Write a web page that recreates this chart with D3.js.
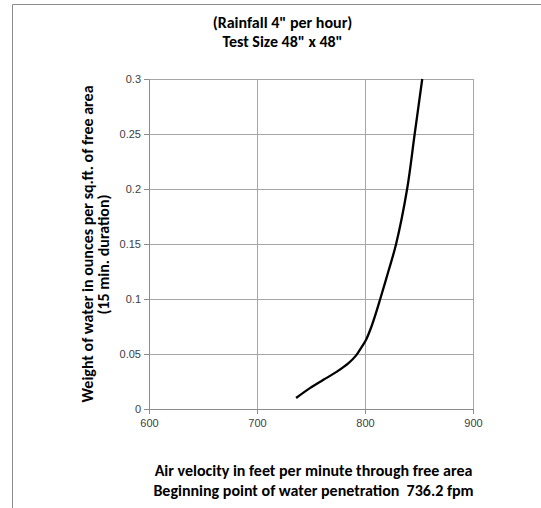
<!DOCTYPE html>
<html>
<head>
<meta charset="utf-8">
<script src="https://cdn.jsdelivr.net/npm/d3@7"></script>
<style>
  body { margin: 0; background: #fff; }
  svg { display: block; font-family: Carlito, Lato, "Liberation Sans", sans-serif; }
  .tick text { fill: #404040; font-size: 11px; }
  .title { font-weight: bold; font-size: 16px; fill: #000; }
</style>
</head>
<body>
<svg id="chart" width="541" height="508"></svg>
<script>
// Air velocity (fpm) vs water weight (oz / sq.ft.)
const velocity = [736.2, 749, 761.5, 774, 784.5, 792, 797, 801, 806, 810.4, 814.1, 821.6, 828.8, 839, 846, 853];
const weight = [0.01, 0.019, 0.0265, 0.034, 0.0415, 0.049, 0.0565, 0.063, 0.075, 0.088, 0.1, 0.125, 0.15, 0.2, 0.25, 0.3];

const xTicks = [600, 700, 800, 900];
const yTicks = [0, 0.05, 0.1, 0.15, 0.2, 0.25, 0.3];

const titleLines = ["(Rainfall 4\" per hour)", "Test Size 48\" x 48\""];
const xTitleLines = ["Air velocity in feet per minute through free area",
  "Beginning point of water penetration  736.2 fpm"];
const yTitleLines = ["Weight of water in ounces per sq.ft. of free area",
  "(15 min. duration)"];

const svg = d3.select("svg#chart");

const plot = { left: 149, top: 79, width: 324, height: 330 };

const x = d3.scaleLinear().domain([600, 900]).range([0, plot.width]);
const y = d3.scaleLinear().domain([0, 0.3]).range([plot.height, 0]);

// chart frame (only the top and left edges are in view)
svg.append("path")
  .attr("d", "M12.5,508V4.5H541")
  .attr("fill", "none")
  .attr("stroke", "#8c8c8c");

const g = svg.append("g")
  .attr("transform", `translate(${plot.left},${plot.top})`);

// gridlines
g.append("g").selectAll("line")
  .data(yTicks.slice(1))
  .enter().append("line")
  .attr("x1", 0).attr("x2", plot.width)
  .attr("y1", d => Math.round(y(d)) + 0.5)
  .attr("y2", d => Math.round(y(d)) + 0.5)
  .attr("stroke", "#a6a6a6");

g.append("g").selectAll("line")
  .data(xTicks.slice(1))
  .enter().append("line")
  .attr("y1", 0).attr("y2", plot.height)
  .attr("x1", d => Math.round(x(d)) + 0.5)
  .attr("x2", d => Math.round(x(d)) + 0.5)
  .attr("stroke", "#a6a6a6");

// axes
const xAxis = g.append("g")
  .attr("transform", `translate(0,${plot.height})`)
  .call(d3.axisBottom(x).tickValues(xTicks).tickSize(5).tickSizeOuter(0).tickPadding(5));

const yAxis = g.append("g")
  .call(d3.axisLeft(y).tickValues(yTicks).tickSize(5).tickSizeOuter(0).tickPadding(3)
    .tickFormat(d => d3.format("")(+d.toFixed(2))));

[xAxis, yAxis].forEach(a => {
  a.select(".domain").attr("stroke", "#8c8c8c");
  a.selectAll(".tick line").attr("stroke", "#8c8c8c");
  a.selectAll(".tick text").style("font-family", "inherit");
});

// curve
const line = d3.line()
  .x(d => x(d[0]))
  .y(d => y(d[1]))
  .curve(d3.curveCatmullRom.alpha(0.5));

g.append("path")
  .datum(velocity.map((v, i) => [v, weight[i]]))
  .attr("d", line)
  .attr("fill", "none")
  .attr("stroke", "#000")
  .attr("stroke-width", 2.3)
  .attr("stroke-linejoin", "round");

// titles
svg.append("g").selectAll("text")
  .data(titleLines)
  .enter().append("text")
  .attr("class", "title")
  .attr("x", 282.5)
  .attr("y", (d, i) => 28 + i * 18.5)
  .attr("text-anchor", "middle")
  .text(d => d);

svg.append("g").selectAll("text")
  .data(xTitleLines)
  .enter().append("text")
  .attr("class", "title")
  .attr("x", 313.5)
  .attr("y", (d, i) => 476 + i * 20)
  .attr("text-anchor", "middle")
  .attr("xml:space", "preserve")
  .text(d => d);

svg.append("g")
  .attr("transform", "rotate(-90)")
  .selectAll("text")
  .data(yTitleLines)
  .enter().append("text")
  .attr("class", "title")
  .attr("x", (d, i) => i ? -254.5 : -244)
  .attr("y", (d, i) => i ? 108.5 : 92.5)
  .attr("text-anchor", "middle")
  .text(d => d);
</script>
</body>
</html>
